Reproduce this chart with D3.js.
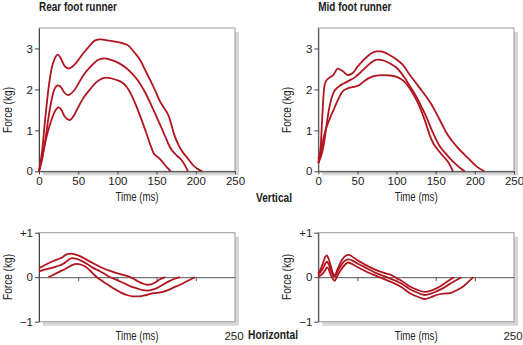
<!DOCTYPE html>
<html>
<head>
<meta charset="utf-8">
<script src="https://cdn.jsdelivr.net/npm/d3@7"></script>
<style>
  body { margin: 0; background: #fff; }
  svg { display: block; font-family: "Liberation Sans", Arial, sans-serif; }
  .title { font-weight: bold; font-size: 12.5px; fill: #1a1a1a; }
  .lab { font-size: 12px; fill: #222; }
  .tick text { font-size: 11.5px; fill: #222; font-family: inherit; }
</style>
</head>
<body>
<script>
'use strict';

// ---- data (time in ms, force in kg) ----
const timeTicks = [0, 50, 100, 150, 200, 250];
const vertTicks = [0, 1, 2, 3];
const horizTicks = [-1, 0, 1];
const horizTickLabels = ['\u22121', '0', '+1'];
const horizAxisTicks = [50, 100, 150, 200];

// rear foot, vertical
const rearVertHigh = [[0,0],[4,0.5],[8,1.3],[12,2.0],[16,2.5],[20,2.75],[24,2.85],[28,2.75],[33,2.56],[38,2.51],[45,2.6],[56,2.87],[64,3.05],[71,3.19],[78,3.22],[90,3.19],[99,3.16],[108,3.12],[114,3.07],[121,2.92],[129,2.72],[136,2.45],[142,2.22],[148,1.98],[154,1.72],[160,1.53],[165,1.37],[169,1.13],[172,0.92],[178,0.64],[184,0.45],[190,0.31],[196,0.16],[202,0.06],[208,0]];
const rearVertMid = [[0,0],[4,0.3],[8,0.75],[12,1.3],[16,1.74],[20,2.02],[24,2.1],[27,2.08],[32,1.93],[37,1.86],[45,1.98],[56,2.33],[66,2.56],[75,2.72],[83,2.76],[92,2.72],[100,2.66],[110,2.54],[120,2.36],[129,2.14],[137,1.87],[144,1.58],[150,1.33],[156,1.07],[161,0.85],[166,0.63],[170,0.5],[176,0.38],[182,0.27],[186,0.15],[190,0]];
const rearVertLow = [[0,0],[3,0.25],[7,0.62],[11,0.95],[15,1.2],[20,1.45],[25,1.56],[28,1.52],[33,1.33],[39,1.25],[45,1.38],[51,1.6],[57,1.8],[65,2.0],[74,2.19],[86,2.29],[99,2.23],[106,2.17],[112,2.06],[118,1.86],[124,1.6],[130,1.3],[137,0.93],[142,0.65],[146,0.45],[152,0.34],[158,0.22],[163,0.1],[168,0]];

// mid foot, vertical
const midVertHigh = [[0,0.3],[3,0.6],[5,1.3],[7,1.95],[9,2.17],[13,2.27],[19,2.35],[25,2.51],[31,2.45],[38,2.35],[44,2.4],[50,2.55],[58,2.72],[66,2.86],[74,2.93],[80,2.93],[91,2.84],[100,2.73],[108,2.6],[117,2.35],[125,2.15],[131,2.0],[138,1.82],[145,1.62],[151,1.41],[158,1.15],[164,0.93],[171,0.74],[178,0.58],[186,0.42],[194,0.27],[202,0.12],[212,0]];
const midVertMid = [[0,0.2],[4,0.4],[7,0.65],[10,1.05],[14,1.55],[19,1.9],[26,2.07],[33,2.15],[40,2.22],[47,2.3],[57,2.47],[66,2.63],[75,2.73],[83,2.71],[92,2.63],[100,2.53],[109,2.32],[117,2.08],[126,1.8],[132,1.57],[138,1.33],[144,1.05],[148,0.88],[155,0.62],[162,0.45],[169,0.3],[176,0.17],[182,0.07],[187,0]];
const midVertLow = [[0,0.2],[3,0.45],[6,0.75],[10,1.05],[15,1.3],[20,1.52],[26,1.78],[31,1.95],[37,2.02],[45,2.06],[52,2.1],[58,2.19],[64,2.27],[72,2.33],[82,2.35],[92,2.34],[101,2.3],[108,2.22],[115,2.07],[122,1.86],[130,1.55],[136,1.25],[142,0.9],[147,0.68],[153,0.52],[159,0.38],[165,0.25],[169,0.12],[172,0]];

// rear foot, horizontal
const rearHorizHigh = [[0,0.2],[7,0.27],[14,0.33],[22,0.39],[30,0.45],[36,0.52],[41,0.53],[48,0.5],[56,0.44],[65,0.35],[74,0.27],[82,0.2],[91,0.14],[99,0.09],[107,0.05],[114,0.02],[120,-0.03],[126,-0.09],[132,-0.14],[138,-0.17],[143,-0.16],[148,-0.12],[154,-0.05],[161,0]];
const rearHorizMid = [[0,0.13],[7,0.17],[14,0.2],[22,0.24],[31,0.3],[37,0.38],[42,0.43],[48,0.41],[55,0.36],[62,0.29],[69,0.21],[77,0.14],[84,0.07],[91,0],[99,-0.06],[108,-0.13],[116,-0.2],[125,-0.25],[132,-0.29],[138,-0.3],[145,-0.28],[151,-0.24],[158,-0.17],[165,-0.1],[172,-0.04],[180,0]];
const rearHorizLow = [[12,0],[19,0.06],[27,0.13],[35,0.2],[42,0.27],[48,0.3],[54,0.28],[59,0.24],[65,0.15],[70,0.06],[74,0],[82,-0.1],[89,-0.18],[96,-0.26],[104,-0.34],[112,-0.4],[120,-0.43],[128,-0.43],[137,-0.4],[146,-0.36],[155,-0.34],[163,-0.3],[172,-0.23],[180,-0.17],[190,-0.08],[199,0]];

// mid foot, horizontal
const midHorizHigh = [[0,0.09],[3,0.18],[6,0.32],[9,0.46],[11,0.49],[13,0.42],[16,0.25],[19,0.08],[21,0.05],[25,0.2],[30,0.38],[35,0.48],[39,0.5],[46,0.43],[53,0.35],[62,0.26],[74,0.16],[85,0.09],[93,0.05],[100,-0.02],[108,-0.1],[117,-0.21],[126,-0.28],[136,-0.33],[144,-0.3],[151,-0.25],[157,-0.19],[163,-0.12],[168,-0.06],[173,0]];
const midHorizMid = [[0,0.05],[3,0.12],[6,0.2],[9,0.31],[11,0.35],[13,0.3],[16,0.16],[19,0.03],[21,0.02],[25,0.14],[30,0.29],[35,0.38],[39,0.4],[46,0.35],[53,0.28],[63,0.19],[74,0.09],[85,0.02],[96,-0.06],[106,-0.14],[117,-0.27],[127,-0.35],[136,-0.4],[144,-0.37],[151,-0.32],[160,-0.24],[168,-0.15],[176,-0.07],[183,0]];
const midHorizLow = [[0,0],[3,0.04],[6,0.09],[9,0.16],[11,0.22],[13,0.19],[16,0.05],[19,-0.05],[21,-0.08],[24,0.02],[29,0.17],[34,0.28],[38,0.33],[46,0.27],[53,0.2],[63,0.11],[74,0.03],[85,-0.05],[96,-0.13],[106,-0.22],[117,-0.36],[127,-0.44],[136,-0.49],[144,-0.45],[151,-0.4],[160,-0.37],[168,-0.36],[176,-0.3],[185,-0.21],[192,-0.1],[198,0]];

const panels = [
  { kind: 'vert', title: 'Rear foot runner', titleLen: 78, series: [rearVertHigh, rearVertMid, rearVertLow], x0: 39, y0: 28, w: 196, h: 143.3 },
  { kind: 'vert', title: 'Mid foot runner', titleLen: 73, series: [midVertHigh, midVertMid, midVertLow], x0: 318.3, y0: 28, w: 195.7, h: 143.3 },
  { kind: 'horiz', series: [rearHorizHigh, rearHorizMid, rearHorizLow], x0: 39, y0: 232.7, w: 196, h: 89 },
  { kind: 'horiz', series: [midHorizHigh, midHorizMid, midHorizLow], x0: 318.3, y0: 232.7, w: 195.7, h: 89 }
];

const svg = d3.select('body').append('svg').attr('width', 523).attr('height', 345);

// condensed look: squeeze text to the width measured on the reference
function squeeze(sel, len) {
  return sel.attr('textLength', len).attr('lengthAdjust', 'spacingAndGlyphs');
}

panels.forEach(p => {
  const x = d3.scaleLinear().domain([0, 250]).range([p.x0, p.x0 + p.w]);
  const y = p.kind === 'vert'
    ? d3.scaleLinear().domain([0, 3.5]).range([p.y0 + p.h, p.y0])
    : d3.scaleLinear().domain([-1, 1]).range([p.y0 + p.h, p.y0]);

  // drop shadow + frame
  svg.append('rect').attr('x', p.x0 + 4).attr('y', p.y0 + 4).attr('width', p.w).attr('height', p.h).attr('fill', '#d6d6d6');
  svg.append('rect').attr('x', p.x0).attr('y', p.y0).attr('width', p.w).attr('height', p.h)
    .attr('fill', '#fff').attr('stroke', '#9a9a9a').attr('stroke-width', 1);

  const cy = p.kind === 'vert' ? 110 : 277;
  squeeze(svg.append('text').attr('class', 'lab').attr('text-anchor', 'middle')
    .attr('transform', `translate(${p.x0 - 27},${cy}) rotate(-90)`).text('Force (kg)'), 46);

  if (p.kind === 'vert') {
    const ya = svg.append('g').attr('transform', `translate(${p.x0},0)`)
      .call(d3.axisLeft(y).tickValues(vertTicks).tickSize(4).tickSizeOuter(0).tickPadding(2).tickFormat(d3.format('d')));
    ya.select('.domain').attr('stroke', '#444');
    ya.selectAll('.tick line').attr('stroke', '#444');
    const xa = svg.append('g').attr('transform', `translate(0,${p.y0 + p.h})`)
      .call(d3.axisBottom(x).tickValues(timeTicks).tickSize(3).tickSizeOuter(0).tickPadding(3));
    xa.select('.domain').attr('stroke', '#444');
    xa.selectAll('.tick line').attr('stroke', '#444');
    squeeze(svg.append('text').attr('class', 'title').attr('x', p.x0).attr('y', 11).text(p.title), p.titleLen);
    squeeze(svg.append('text').attr('class', 'lab').attr('text-anchor', 'middle')
      .attr('x', p.x0 + p.w / 2).attr('y', 201).text('Time (ms)'), 43);
  } else {
    const ya = svg.append('g').attr('transform', `translate(${p.x0},0)`)
      .call(d3.axisLeft(y).tickValues(horizTicks).tickSize(4).tickSizeOuter(0).tickPadding(2)
        .tickFormat((d, i) => horizTickLabels[i]));
    ya.select('.domain').attr('stroke', '#444');
    ya.selectAll('.tick line').attr('stroke', '#444');
    const za = svg.append('g').attr('transform', `translate(0,${y(0)})`)
      .call(d3.axisBottom(x).tickValues(horizAxisTicks).tickSize(4).tickSizeOuter(0).tickFormat(''));
    za.select('.domain').attr('stroke', '#555');
    za.selectAll('.tick line').attr('stroke', '#555');
    squeeze(svg.append('text').attr('class', 'lab').attr('text-anchor', 'middle')
      .attr('x', p.x0 + p.w / 2).attr('y', 340).text('Time (ms)'), 43);
    svg.append('text').attr('class', 'lab').attr('text-anchor', 'middle').style('font-size', '11.5px')
      .attr('x', x(250) - 1).attr('y', 340).text('250');
  }

  const line = d3.line().x(d => x(d[0])).y(d => y(d[1])).curve(d3.curveMonotoneX);
  svg.append('g').selectAll('path').data(p.series).join('path')
    .attr('d', line).attr('fill', 'none').attr('stroke', '#b1141f')
    .attr('stroke-width', 1.8).attr('stroke-linejoin', 'round');
});

squeeze(svg.append('text').attr('class', 'title').attr('x', 256).attr('y', 202).text('Vertical'), 36);
squeeze(svg.append('text').attr('class', 'title').attr('x', 248).attr('y', 339).text('Horizontal'), 50);
</script>
</body>
</html>
